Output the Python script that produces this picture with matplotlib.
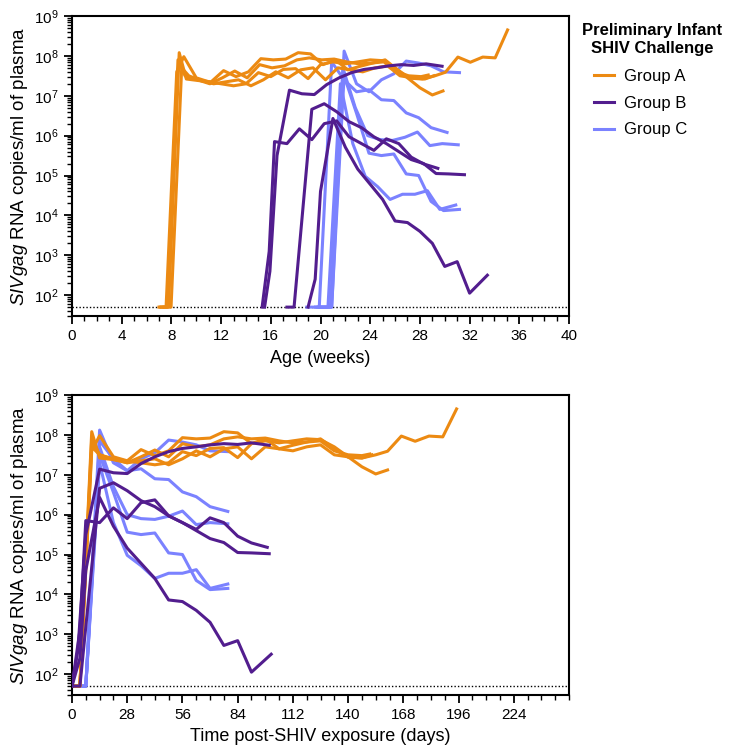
import numpy as np
import matplotlib
matplotlib.use("Agg")
import matplotlib.pyplot as plt
from matplotlib.lines import Line2D
from matplotlib.ticker import LogLocator, MultipleLocator, FixedLocator, NullFormatter

plt.rcParams["font.family"] = ["Liberation Sans", "DejaVu Sans"]
plt.rcParams["mathtext.fontset"] = "custom"
plt.rcParams["mathtext.rm"] = "Liberation Sans"
plt.rcParams["mathtext.it"] = "Liberation Sans:italic"
plt.rcParams["mathtext.bf"] = "Liberation Sans:bold"

# viral load as log10 copies/ml, sampled on days post-SHIV exposure
LOD = 50
groups = ["Group A", "Group B", "Group C"]
colors = {"Group A": "#EC8A12", "Group B": "#521D8E", "Group C": "#7B82FF"}

# Group A (challenged ~7 weeks of age)
a_ages = [7.2, 7.0, 7.1, 7.4]
a1_days = [0, 4, 10, 14, 21, 28, 35, 42, 49, 56, 63, 70, 77, 84, 91, 98, 105, 112, 119, 126,
           133, 140, 147, 154, 160, 167, 174, 181, 188, 195]
a1_log = [1.7, 1.7, 8.08, 7.42, 7.38, 7.35, 7.63, 7.48, 7.6, 7.93, 7.9, 7.92, 8.08, 8.05, 7.78,
          7.9, 7.65, 7.74, 7.82, 7.9, 7.65, 7.44, 7.42, 7.5, 7.59, 7.97, 7.84, 7.97, 7.95, 8.65]
a2_days = [0, 4, 10, 14, 21, 28, 35, 42, 49, 56, 63, 70, 77, 84, 91, 98, 105, 112, 119, 126,
           133, 140, 147, 154, 160]
a2_log = [1.7, 1.7, 7.6, 7.98, 7.45, 7.35, 7.3, 7.25, 7.3, 7.58, 7.48, 7.66, 7.68, 7.43, 7.78,
          7.85, 7.8, 7.85, 7.9, 7.88, 7.7, 7.45, 7.2, 7.02, 7.12]
a3_days = [0, 4, 10, 14, 21, 28, 35, 42, 49, 56, 63, 70, 77, 84, 91, 98, 105, 112, 119, 126,
           133, 140, 147, 151]
a3_log = [1.7, 1.7, 7.9, 7.5, 7.4, 7.3, 7.45, 7.62, 7.45, 7.78, 7.7, 7.75, 7.9, 7.95, 7.9,
          7.92, 7.85, 7.8, 7.82, 7.85, 7.6, 7.5, 7.48, 7.52]
a4_days = [0, 4, 10, 14, 21, 28, 35, 42, 49, 56, 63, 70, 77, 84, 91, 98, 105, 112, 119, 126,
           133, 140, 147, 152]
a4_log = [1.7, 1.7, 7.7, 7.5, 7.38, 7.3, 7.35, 7.4, 7.25, 7.4, 7.6, 7.45, 7.65, 7.7, 7.4,
          7.7, 7.65, 7.6, 7.7, 7.75, 7.5, 7.45, 7.42, 7.5]

# Group B (challenged ~15-19 weeks of age)
b_ages = [15.5, 15.3, 17.3, 19.0]
b1_days = [0, 3, 7, 14, 21, 28, 35, 42, 49, 56, 63, 70, 77, 84, 91, 100]
b1_log = [1.7, 2.6, 5.5, 7.14, 7.05, 7.03, 7.28, 7.45, 7.58, 7.66, 7.7, 7.75, 7.78, 7.76, 7.8, 7.74]
b2_days = [0, 4, 7, 14, 21, 28, 35, 42, 49, 56, 63, 70, 77, 84, 91, 99]
b2_log = [1.7, 3.1, 5.85, 5.8, 6.17, 5.9, 6.3, 6.37, 5.97, 5.8, 5.63, 5.92, 5.8, 5.46, 5.29, 5.18]
b3_days = [0, 4, 14, 21, 28, 35, 42, 49, 56, 63, 70, 77, 84, 91, 100]
b3_log = [1.7, 1.7, 6.66, 6.8, 6.6, 6.35, 6.2, 5.97, 5.8, 5.6, 5.4, 5.3, 5.05, 5.04, 5.02]
b4_days = [0, 4, 7, 14, 21, 28, 35, 42, 49, 56, 63, 70, 77, 84, 91, 101]
b4_log = [1.7, 2.4, 4.6, 6.43, 5.71, 5.16, 4.78, 4.4, 3.86, 3.82, 3.6, 3.3, 2.72, 2.84, 2.05, 2.5]

# Group C (challenged ~19-20 weeks of age)
c_ages = [19.9, 18.9, 19.8, 19.9, 19.6]
c_days = [0, 7, 14, 21, 28, 35, 42, 49, 56, 63, 70, 79]
c1_log = [1.7, 1.7, 8.12, 7.3, 7.1, 7.4, 7.55, 7.87, 7.82, 7.75, 7.6, 7.58]
c2_log = [1.7, 1.7, 7.85, 7.4, 7.1, 7.15, 6.9, 6.88, 6.57, 6.45, 6.2, 6.08]
c3_log = [1.7, 1.7, 7.7, 6.7, 6.0, 5.9, 5.88, 5.96, 6.09, 5.75, 5.8, 5.77]
c4_log = [1.7, 1.7, 7.5, 6.56, 5.56, 5.5, 5.54, 5.04, 5.0, 4.35, 4.12, 4.15]
c5_log = [1.7, 1.7, 7.3, 5.8, 4.98, 4.72, 4.4, 4.53, 4.53, 4.62, 4.15, 4.26]

animals = [
    ("Group C", c_ages[0], c_days, c1_log),
    ("Group C", c_ages[1], c_days, c2_log),
    ("Group C", c_ages[2], c_days, c3_log),
    ("Group C", c_ages[3], c_days, c4_log),
    ("Group C", c_ages[4], c_days, c5_log),
    ("Group A", a_ages[0], a1_days, a1_log),
    ("Group A", a_ages[1], a2_days, a2_log),
    ("Group A", a_ages[2], a3_days, a3_log),
    ("Group A", a_ages[3], a4_days, a4_log),
    ("Group B", b_ages[0], b1_days, b1_log),
    ("Group B", b_ages[1], b2_days, b2_log),
    ("Group B", b_ages[2], b3_days, b3_log),
    ("Group B", b_ages[3], b4_days, b4_log),
]

day_ticks = [0, 28, 56, 84, 112, 140, 168, 196, 224]
vl_ticks = [1e2, 1e3, 1e4, 1e5, 1e6, 1e7, 1e8, 1e9]

fig = plt.figure(figsize=(7.29, 7.49), dpi=100)
ax1 = fig.add_axes([72 / 729, 1 - 316 / 749, 497 / 729, 300 / 749])
ax2 = fig.add_axes([72 / 729, 1 - 695 / 749, 497 / 729, 300 / 749])

for grp, age, days, logv in animals:
    d = np.array(days, dtype=float)
    v = 10 ** np.array(logv)
    ax1.plot(age + d / 7, v, color=colors[grp], lw=2.2, zorder=3)
    ax2.plot(d, v, color=colors[grp], lw=2.2, zorder=3)

for ax in (ax1, ax2):
    ax.set_yscale("log")
    ax.set_ylim(30, 1e9)
    ax.axhline(LOD, color="black", lw=1.0, ls=(0, (1, 1.5)), zorder=2)
    ax.yaxis.set_major_locator(FixedLocator(vl_ticks))
    ax.yaxis.set_minor_locator(LogLocator(base=10, subs=np.arange(2, 10), numticks=20))
    ax.yaxis.set_minor_formatter(NullFormatter())
    for s in ax.spines.values():
        s.set_linewidth(1.5)
    ax.tick_params(which="major", direction="out", length=6, width=1.3, labelsize=11)
    ax.tick_params(which="minor", direction="out", length=3.5, width=1.0)
    ax.set_ylabel(r"$\it{SIVgag}$ RNA copies/ml of plasma", fontsize=13.5, labelpad=3)

ax1.set_xlim(0, 40)
ax1.xaxis.set_major_locator(MultipleLocator(4))
ax1.xaxis.set_minor_locator(MultipleLocator(1))
ax1.set_xlabel("Age (weeks)", fontsize=13, labelpad=5)

ax2.set_xlim(0, 252)
ax2.xaxis.set_major_locator(FixedLocator(day_ticks))
ax2.xaxis.set_minor_locator(MultipleLocator(7))
ax2.set_xlabel("Time post-SHIV exposure (days)", fontsize=13, labelpad=4)

fig.text(652 / 729, 1 - 40 / 749, "Preliminary Infant\nSHIV Challenge", ha="center", va="center",
         fontsize=12, fontweight="bold", linespacing=1.25)
handles = [Line2D([0], [0], color=colors[g], lw=2.2) for g in groups]
fig.legend(handles, groups, loc="upper left", bbox_to_anchor=(594 / 729, 1 - 69 / 749),
           frameon=False, fontsize=12, handlelength=1.2, handletextpad=0.6,
           labelspacing=0.7, borderaxespad=0, borderpad=0)

fig.savefig("out.png", dpi=100)
